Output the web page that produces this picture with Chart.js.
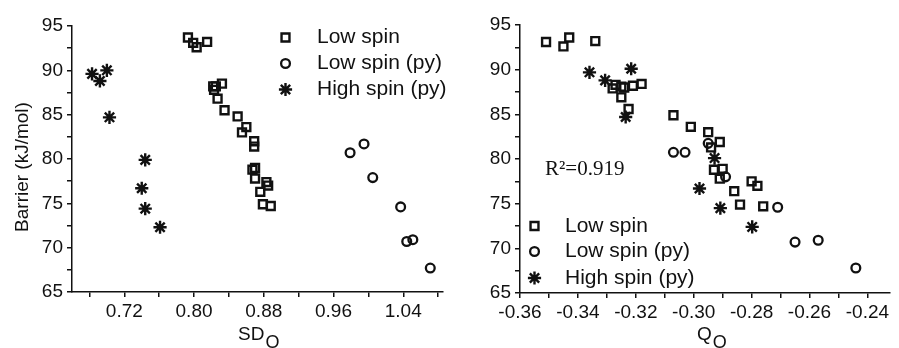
<!DOCTYPE html>
<html>
<head>
<meta charset="utf-8">
<script src="https://cdn.jsdelivr.net/npm/chart.js@4/dist/chart.umd.min.js"></script>
<style>
    body { margin: 0; background: #fff; }
    #wrap { position: relative; width: 899px; height: 348px; overflow: hidden; }
    #left { position: absolute; left: 0; top: 0; }
    #right { position: absolute; left: 452px; top: 0; }
</style>
</head>
<body>
<div id="wrap">
    <canvas id="left" width="452" height="348"></canvas>
    <canvas id="right" width="447" height="348"></canvas>
</div>
<script>
const seriesNames = ["Low spin", "Low spin (py)", "High spin (py)"];

// left panel: barrier vs SD_O  ([SD_O, barrier])
const sdLowSpin = [
    [0.793, 93.7], [0.799, 93.1], [0.803, 92.6], [0.815, 93.2], [0.822, 88.2],
    [0.825, 88.2], [0.823, 87.8], [0.832, 88.5], [0.827, 86.8], [0.835, 85.5],
    [0.850, 84.8], [0.860, 83.6], [0.855, 83.0], [0.869, 82.0], [0.869, 81.4],
    [0.867, 78.8], [0.870, 79.0], [0.870, 77.8], [0.883, 77.4], [0.885, 77.0],
    [0.876, 76.3], [0.879, 74.9], [0.888, 74.7]
];
const sdLowSpinPy = [
    [0.979, 80.7], [0.995, 81.7], [1.005, 77.9], [1.037, 74.6],
    [1.044, 70.7], [1.051, 70.9], [1.071, 67.7]
];
const sdHighSpinPy = [
    [0.683, 89.6], [0.692, 88.8], [0.700, 90.0], [0.703, 84.7],
    [0.744, 79.9], [0.740, 76.7], [0.744, 74.4], [0.761, 72.3]
];

// right panel: barrier vs Q_O  ([Q_O, barrier])
const qLowSpin = [
    [-0.351, 93.1], [-0.345, 92.6], [-0.343, 93.6], [-0.334, 93.2], [-0.328, 87.9],
    [-0.327, 88.3], [-0.325, 88.1], [-0.324, 88.0], [-0.325, 86.9], [-0.321, 88.2],
    [-0.318, 88.4], [-0.3225, 85.6], [-0.307, 84.9], [-0.301, 83.6], [-0.295, 83.0],
    [-0.291, 81.9], [-0.294, 81.3], [-0.293, 78.8], [-0.290, 78.9], [-0.291, 77.8],
    [-0.280, 77.5], [-0.278, 77.0], [-0.286, 76.4], [-0.284, 74.9], [-0.276, 74.7]
];
const qLowSpinPy = [
    [-0.307, 80.75], [-0.303, 80.75], [-0.295, 81.75], [-0.289, 78.0],
    [-0.271, 74.6], [-0.265, 70.7], [-0.257, 70.9], [-0.244, 67.8]
];
const qHighSpinPy = [
    [-0.336, 89.7], [-0.3306, 88.8], [-0.3216, 90.1], [-0.3235, 84.7],
    [-0.2928, 80.1], [-0.298, 76.7], [-0.2908, 74.5], [-0.2798, 72.4]
];

const barrierTicks = [65, 70, 75, 80, 85, 90, 95];
const sdTicks = [0.72, 0.80, 0.88, 0.96, 1.04];
const qTicks = [-0.36, -0.34, -0.32, -0.30, -0.28, -0.26, -0.24];
const fitNote = "R²=0.919";

const SANS = "'Liberation Sans', Arial, sans-serif";
const INK = "#111";

const toXY = arr => arr.map(p => ({x: p[0], y: p[1]}));
const steps = (from, to, step) => {
    const out = [];
    for (let v = from; v <= to + 1e-9; v += step) out.push(Math.round(v * 1000) / 1000);
    return out;
};
const isIn = (list, v) => list.some(t => Math.abs(t - v) < 1e-6);

const markerStyles = [
    {pointStyle: "rect", radius: 5.6, borderWidth: 2.4},
    {pointStyle: "circle", radius: 4.4, borderWidth: 2.3},
    {pointStyle: "star", radius: 6.6, borderWidth: 2.4}
];

const makeSets = (low, lowPy, high) => [low, lowPy, high].map((d, i) => ({
    label: seriesNames[i],
    data: toXY(d),
    pointStyle: markerStyles[i].pointStyle,
    pointRadius: markerStyles[i].radius,
    pointBorderWidth: markerStyles[i].borderWidth,
    pointBorderColor: INK,
    pointBackgroundColor: "rgba(0,0,0,0)",
    showLine: false
}));

function drawMarker(ctx, i, x, y) {
    const m = markerStyles[i];
    ctx.save();
    ctx.strokeStyle = INK;
    ctx.fillStyle = "rgba(0,0,0,0)";
    ctx.lineWidth = m.borderWidth;
    if (Chart.helpers && Chart.helpers.drawPoint) {
        Chart.helpers.drawPoint(ctx, {pointStyle: m.pointStyle, radius: m.radius, rotation: 0, borderWidth: m.borderWidth}, x, y);
    }
    ctx.restore();
}

// legend, axis titles and note drawn straight on the canvas
const panelText = cfg => ({
    id: "panelText",
    afterDraw(chart) {
        const ctx = chart.ctx;
        ctx.save();
        ctx.fillStyle = INK;
        ctx.font = "21px " + SANS;
        ctx.textBaseline = "middle";
        ctx.textAlign = "left";
        cfg.legendRows.forEach((ry, i) => {
            drawMarker(ctx, i, cfg.markerX, ry);
            ctx.fillText(seriesNames[i], cfg.textX, ry);
        });

        // x title with subscript O
        ctx.textBaseline = "alphabetic";
        ctx.font = "19px " + SANS;
        ctx.fillText(cfg.xTitle, cfg.xTitleX, 340);
        const w = ctx.measureText(cfg.xTitle).width;
        ctx.font = "18px " + SANS;
        ctx.fillText("O", cfg.xTitleX + w + 1, 348);

        if (cfg.yTitle) {
            ctx.save();
            ctx.translate(23, 167);
            ctx.rotate(-Math.PI / 2);
            ctx.textAlign = "center";
            ctx.textBaseline = "middle";
            ctx.font = "19px " + SANS;
            ctx.fillText(cfg.yTitle, 0, 0);
            ctx.restore();
        }
        if (cfg.note) {
            ctx.font = "21px 'Liberation Serif', 'Times New Roman', serif";
            ctx.fillText(cfg.note, cfg.noteX, 175);
        }
        ctx.restore();
    }
});

const axisLook = {
    grid: {drawOnChartArea: false, drawTicks: true, tickLength: 5, color: INK, lineWidth: 1.5},
    border: {display: true, color: INK, width: 1.5}
};

function makeScales(xMin, xMax, xAll, xMajor, yWidth, xHeight, digits) {
    return {
        x: Object.assign({
            type: "linear", min: xMin, max: xMax, bounds: "data",
            afterBuildTicks: s => { s.ticks = xAll.map(v => ({value: v})); },
            afterFit: s => { s.height = xHeight; },
            ticks: {
                autoSkip: false, maxRotation: 0, padding: 3, color: INK,
                font: {family: SANS, size: 19},
                callback: v => isIn(xMajor, v) ? v.toFixed(digits) : ""
            }
        }, axisLook),
        y: Object.assign({
            type: "linear", min: 65, max: 95, bounds: "data",
            afterBuildTicks: s => { s.ticks = steps(65, 95, 2.5).map(v => ({value: v})); },
            afterFit: s => { s.width = yWidth; },
            ticks: {
                autoSkip: false, padding: 4, color: INK,
                font: {family: SANS, size: 19},
                callback: v => isIn(barrierTicks, v) ? String(v) : ""
            }
        }, axisLook)
    };
}

const baseOptions = (scales, padding) => ({
    responsive: false,
    animation: false,
    layout: {padding: padding},
    plugins: {legend: {display: false}, tooltip: {enabled: false}},
    scales: scales
});

new Chart(document.getElementById("left"), {
    type: "scatter",
    data: {datasets: makeSets(sdLowSpin, sdLowSpinPy, sdHighSpinPy)},
    options: baseOptions(
        makeScales(0.66, 1.0856, steps(0.68, 1.08, 0.04), sdTicks, 72, 56, 2),
        {top: 26, right: 5, left: 0, bottom: 0}
    ),
    plugins: [panelText({
        legendRows: [37.5, 63.5, 89.5], markerX: 285.5, textX: 317,
        xTitle: "SD", xTitleX: 238, yTitle: "Barrier (kJ/mol)"
    })]
});

new Chart(document.getElementById("right"), {
    type: "scatter",
    data: {datasets: makeSets(qLowSpin, qLowSpinPy, qHighSpinPy)},
    options: baseOptions(
        makeScales(-0.36, -0.2322, steps(-0.36, -0.24, 0.01), qTicks, 68, 55, 2),
        {top: 25, right: 1, left: 0, bottom: 0}
    ),
    plugins: [panelText({
        legendRows: [226, 251.5, 278], markerX: 82.5, textX: 113,
        xTitle: "Q", xTitleX: 245, note: fitNote, noteX: 93
    })]
});
</script>
</body>
</html>
